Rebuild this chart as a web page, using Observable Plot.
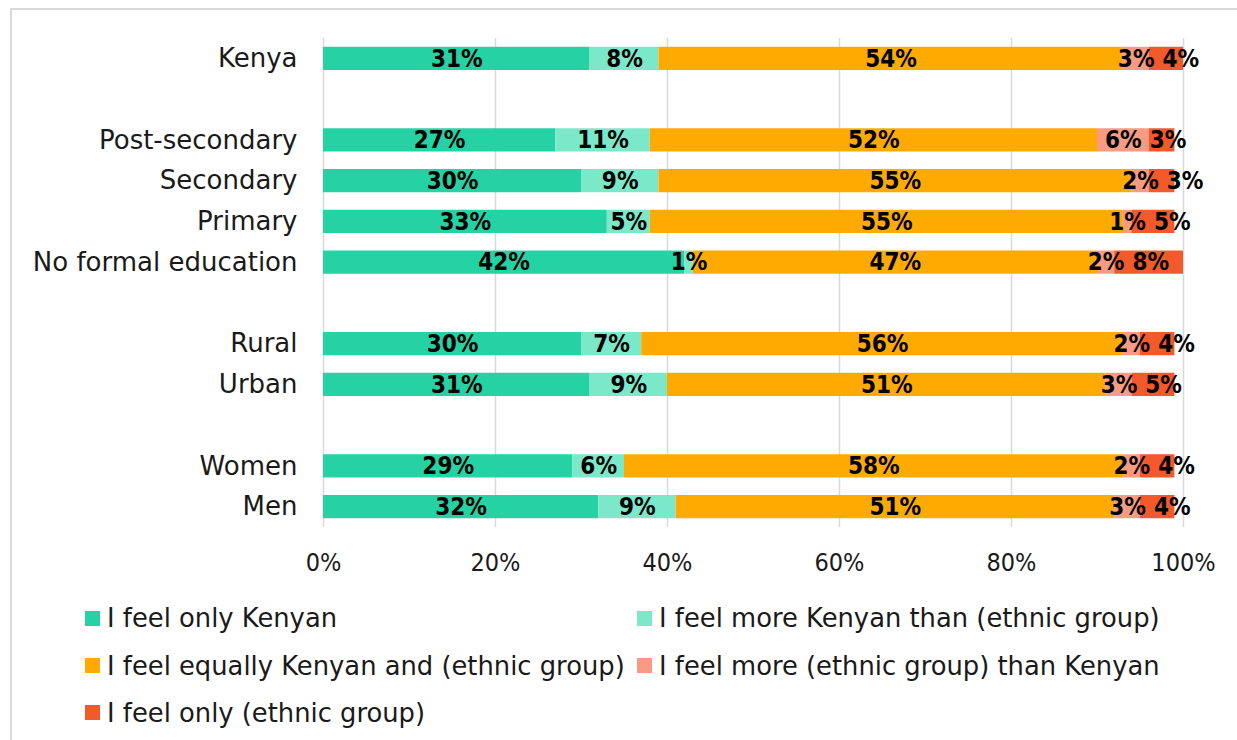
<!DOCTYPE html>
<html><head><meta charset="utf-8">
<script src="https://cdn.jsdelivr.net/npm/d3@7"></script>
<script src="https://cdn.jsdelivr.net/npm/@observablehq/plot@0.6"></script>
<style>
body{margin:0;background:#fff;overflow:hidden;}
#frame{position:absolute;left:10px;top:8px;width:1300px;height:800px;border:2px solid #d9d9d9;box-sizing:border-box;}
#chart{position:absolute;left:0;top:0;}
.item{position:absolute;height:30px;display:flex;align-items:center;font-family:"DejaVu Sans";font-size:25.8px;color:#1a1a1a;white-space:nowrap;}
.sw{width:15px;height:15px;margin-right:7px;flex:none;}
</style></head><body>
<div id="frame"></div>
<div id="chart"></div>
<div id="legend"></div>
<script>
// ---- data ----
const groups = [
  ["Kenya"],
  ["Post-secondary", "Secondary", "Primary", "No formal education"],
  ["Rural", "Urban"],
  ["Women", "Men"]
];
const categories = groups.flat();
const seriesNames = [
  "I feel only Kenyan",
  "I feel more Kenyan than (ethnic group)",
  "I feel equally Kenyan and (ethnic group)",
  "I feel more (ethnic group) than Kenyan",
  "I feel only (ethnic group)"
];
const onlyKenyan   = [31, 27, 30, 33, 42, 30, 31, 29, 32];
const moreKenyan   = [ 8, 11,  9,  5,  1,  7,  9,  6,  9];
const equally      = [54, 52, 55, 55, 47, 56, 51, 58, 51];
const moreEthnic   = [ 3,  6,  2,  1,  2,  2,  3,  2,  3];
const onlyEthnic   = [ 4,  3,  3,  5,  8,  4,  5,  4,  4];
const xTicks = [0, 20, 40, 60, 80, 100];
const colors = ["#25D2A3", "#7BE8CA", "#FFAA00", "#F89B82", "#F2592B"];

const seriesValues = [onlyKenyan, moreKenyan, equally, moreEthnic, onlyEthnic];

// y domain with blank spacer rows between groups
const yDomain = [];
groups.forEach((g, i) => {
  if (i > 0) yDomain.push(" ".repeat(i));
  yDomain.push(...g);
});

// ---- layout constants ----
const W = 1237, H = 590, mL = 323, mR = 54, mT = 38, mB = 63;
const pxPerUnit = (W - mL - mR) / 100;
const labelFont = "bold 24px 'DejaVu Sans Condensed', 'DejaVu Sans'";
const canvas = document.createElement("canvas");
const ctx = canvas.getContext("2d");
ctx.font = labelFont;

const bars = [];
const labels = [];
categories.forEach((cat, i) => {
  let acc = 0;
  let prevRight = -Infinity;
  seriesValues.forEach((vals, s) => {
    const v = vals[i];
    const x1 = acc, x2 = acc + v;
    acc = x2;
    bars.push({cat, series: seriesNames[s], x1, x2, color: colors[s]});
    const text = v + "%";
    const w = ctx.measureText(text).width;
    const cx = (x1 + x2) / 2 * pxPerUnit;
    const lx = Math.max(cx, prevRight + 8 + w / 2);
    prevRight = lx + w / 2;
    labels.push({cat, text, x: lx / pxPerUnit});
  });
});

const chart = Plot.plot({
  width: W, height: H,
  marginLeft: mL, marginRight: mR, marginTop: mT, marginBottom: mB,
  style: {fontFamily: "DejaVu Sans", color: "#1a1a1a", background: "transparent"},
  x: {domain: [0, 100]},
  y: {domain: yDomain, paddingInner: 0.43, paddingOuter: 0.215, round: false},
  marks: [
    Plot.gridX(xTicks, {stroke: "#d9d9d9", strokeWidth: 1.5, strokeOpacity: 1}),
    Plot.barX(bars, {x1: "x1", x2: "x2", y: "cat", fill: "color", inset: 0}),
    Plot.text(labels, {x: "x", y: "cat", text: "text", fontWeight: "bold", fontSize: 24,
      fontFamily: "'DejaVu Sans Condensed', 'DejaVu Sans'", fill: "#000", className: "barlabel"}),
    Plot.axisX(xTicks, {anchor: "bottom", tickSize: 0, tickPadding: 26, tickFormat: d => d + "%",
      fontSize: 25, fontFamily: "'DejaVu Sans Condensed', 'DejaVu Sans'", label: null}),
    Plot.axisY(yDomain, {anchor: "left", tickSize: 0, tickPadding: 26, fontSize: 26, label: null})
  ]
});
document.getElementById("chart").appendChild(chart);
d3.select(chart).selectAll("g[aria-label='x-axis tick label'] text, .barlabel text").style("font-stretch", "condensed");

// ---- legend ----
const legendPos = [
  {left: 85, cy: 618}, {left: 637, cy: 618},
  {left: 85, cy: 665.5}, {left: 637, cy: 665.5},
  {left: 85, cy: 712.5}
];
const legend = document.getElementById("legend");
seriesNames.forEach((name, i) => {
  const p = legendPos[i];
  const d = document.createElement("div");
  d.className = "item";
  d.style.left = p.left + "px";
  d.style.top = (p.cy - 15) + "px";
  const sw = document.createElement("span");
  sw.className = "sw";
  sw.style.background = colors[i];
  d.appendChild(sw);
  d.appendChild(document.createTextNode(name));
  legend.appendChild(d);
});
</script>
</body></html>
